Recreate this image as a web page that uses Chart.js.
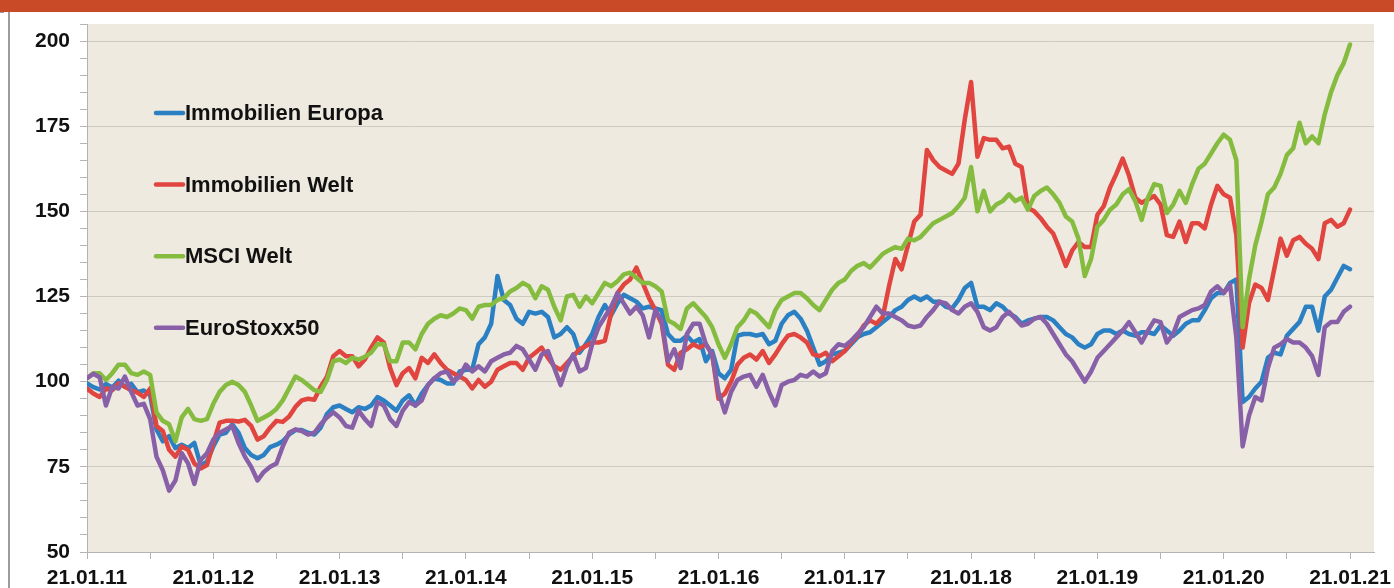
<!DOCTYPE html>
<html lang="de">
<head>
  <meta charset="UTF-8">
  <title>Immobilien vs. Aktien</title>
  <script src="https://cdn.jsdelivr.net/npm/chart.js"></script>
  <style>
    html, body { margin: 0; padding: 0; background: #fff; overflow: hidden; }
    body { width: 1394px; height: 588px; position: relative; font-family: 'Liberation Sans', Arial, sans-serif; }
    .band { position: absolute; left: 0; top: 0; width: 1394px; height: 12px; background: #C84A26; z-index: 2; }
    .frame { position: absolute; left: 8px; top: 12px; width: 2px; height: 576px; background: #9C9C9C; z-index: 2; }
    .dash { position: absolute; left: 0; top: 12px; width: 4px; height: 1px; background: #9C9C9C; z-index: 2; }
    .wrap { position: absolute; left: 0; top: 0; width: 1394px; height: 588px; }
  </style>
</head>
<body>
  <div class="band"></div>
  <div class="dash"></div>
  <div class="frame"></div>
  <div class="wrap"><canvas id="chart"></canvas></div>

  <script>
    // one value every 0.05 years, starting 21.01.2011
    const STEP = 0.05;
    const tickYears = ['21.01.11', '21.01.12', '21.01.13', '21.01.14', '21.01.15', '21.01.16',
                       '21.01.17', '21.01.18', '21.01.19', '21.01.20', '21.01.21'];
    const seriesNames = ['Immobilien Europa', 'Immobilien Welt', 'MSCI Welt', 'EuroStoxx50'];

    const immoEuropa = [
      99.5, 98.4, 97.7, 99.3, 98.3, 100.3, 98.5, 99.4, 96.9, 97.4,
      96, 86, 82.5, 84, 80.5, 81.5, 80.5, 82, 75.5, 76.5,
      81, 84.5, 85, 87.5, 85, 80.5, 78.5, 77.5, 78.5, 80.8,
      81.5, 82.5, 84.5, 85.8, 85.8, 85, 84.5, 86.5, 90.5, 92.5,
      93, 92, 91, 92.5, 92, 93, 95.5, 94.5, 93, 91.5,
      94.5, 96, 93, 96.5, 99, 101, 100.5, 99.5, 99.5, 103,
      103.5, 103.5, 111, 113, 117, 131, 124, 122.5, 118.5, 117,
      120.5, 120, 120.5, 119, 113, 114, 116, 114, 108.5, 111,
      114, 119, 122.5, 119.5, 123, 125.5, 124.5, 123.5, 121.5, 122,
      121.5, 121, 114, 112, 112, 113.5, 111.5, 112.5, 106, 109,
      102.5, 101, 103.5, 113.5, 114, 114, 113.5, 114, 111, 112,
      117, 119.5, 120.5, 118.5, 115, 110, 105, 106, 108, 108.5,
      109, 111, 113, 114, 114.5, 116, 117.5, 119, 121, 122,
      124, 125, 124, 125, 123.5, 123.5, 122, 121.5, 124, 127.5,
      129, 122, 122, 121, 123, 122, 120, 119, 117, 118,
      118.5, 119, 119, 118, 116, 114, 113, 111, 110, 111,
      114, 115, 115, 114, 115, 114, 113.5, 114.5, 114.5, 114,
      116.5, 115, 113.5, 115, 117, 118, 118, 121, 124.5, 126,
      126, 129, 130, 94, 95.5, 98, 100, 107, 108.5, 108,
      113.5, 115.5, 117.5, 122, 122, 115, 125, 127, 130.5, 134,
      133
    ];
    const immoWelt = [
      98, 96.5, 95.5, 98, 97.5, 99.5, 98.5, 97.5, 96.8, 95.5,
      98, 87, 85.5, 80, 78, 81, 80, 76, 74.5, 75.5,
      82, 88, 88.5, 88.5, 88.3, 88.8, 87, 83, 84, 86.5,
      88.5, 88.2, 89.8, 92.6, 94.5, 95, 94.7, 98.5, 101.5, 107.5,
      109, 107.5, 107.5, 104.5, 106.5, 110, 113, 111.5, 104, 99,
      102.5, 104, 101, 107, 105.5, 108, 105.5, 103.5, 102.5, 101.5,
      100.5, 98, 100.5, 98.5, 100, 103.5, 104.5, 105.5, 105.5, 103.5,
      107, 108.5, 110, 107, 104.5, 103.5, 105.5, 107.5, 109.5, 110.5,
      111.5, 111.5, 112, 120, 126, 128.5, 130, 133.5, 129, 124.5,
      121, 117, 105, 103.5, 108.5, 109.5, 111, 110, 111, 108,
      95, 96.5, 100, 105, 107, 108, 106.5, 109, 105.5, 108,
      111, 113.5, 114, 113, 111.5, 108, 107.5, 108.5, 106, 107.5,
      109, 111.5, 113.5, 116.5, 118, 117, 119, 128, 136, 133,
      140, 147, 149, 168, 165, 163, 162, 161, 164, 177,
      188, 166, 171.5, 171, 171, 168.5, 169, 164, 163, 151,
      150, 148, 145.5, 143.5, 139, 134, 138.5, 141, 139.5, 139.5,
      149, 151.5, 157, 161, 165.5, 160.5, 154, 152.5, 153.5, 154.5,
      152, 143, 142.5, 147, 141, 146.5, 146.5, 145, 152, 157.5,
      155, 154, 143, 110, 123, 128.5, 127.5, 124, 133, 142,
      137, 141.5, 142.5, 140.5, 139, 136, 146.5, 147.5, 145.5, 146.5,
      150.5
    ];
    const msciWelt = [
      101, 102.5, 102.5, 100.5, 102.5, 105, 105, 102.5, 102, 103,
      102, 91, 88.5, 87.5, 82.5, 89.5, 92, 89, 88.5, 89,
      93.5, 97, 99, 100, 99, 97, 93, 88.5, 89.5, 90.5,
      92, 94.5, 98, 101.5, 100.5, 99, 97.5, 97, 100.5, 106,
      106.5, 105.5, 107, 106.5, 107.3, 108.5, 111, 111, 106, 106,
      111.5, 111.5, 109.5, 114, 117, 118.5, 119.5, 119, 120, 121.5,
      121, 118.5, 122, 122.5, 122.5, 124, 124.5, 126.5, 127.5, 129,
      128, 124.5, 128, 127, 122, 118, 125, 125.5, 122, 125,
      123, 126, 129, 128, 129.5, 131.5, 132, 130.5, 129, 129,
      128, 126.5, 118, 117, 115.5, 121.5, 123, 121, 119, 116,
      111, 107, 111, 116, 118, 121, 120, 118, 116, 121,
      124, 125, 126, 126, 124.5, 122.5, 121, 124, 127, 129,
      130, 132.5, 134, 134.8, 133.5, 135.5, 137.5, 138.6, 139.5, 139,
      142, 141.5, 142.5, 144.5, 146.5, 147.5, 148.5, 149.5, 151.5, 154,
      163, 150, 156, 150, 152, 153, 155, 153, 154, 150.5,
      154.5, 156, 157, 155, 152.5, 148.5, 147, 142, 131, 136,
      145.5, 147.5, 150.5, 152, 155, 156.5, 153, 147.5, 154, 158,
      157.5, 149.5, 152, 156, 152.5, 158, 162.5, 164, 167, 170,
      172.5, 171, 165, 116, 130, 140, 147, 155, 157, 161,
      166.5, 168.5, 176, 170, 172, 170, 178.5, 185, 190, 193.5,
      199
    ];
    const euroStoxx = [
      101, 102.3, 101.3, 93, 98.5, 98, 101.5, 97, 93, 93.5,
      89, 78, 74, 68, 71, 79, 76, 70, 77, 79,
      83, 85, 86, 87, 82, 78, 75, 71, 73.5, 75,
      76, 81, 85, 86, 85.5, 84.5, 85, 87.5, 89.5, 91,
      89.5, 87, 86.5, 91.5, 89, 87, 94, 93, 89, 87,
      91.5, 94, 93, 94.5, 99, 101, 102.5, 103, 100, 101.5,
      105, 103, 104.5, 103, 106, 107, 108, 108.5, 110.5, 109.5,
      106.5, 103.5, 108, 109, 104, 99, 104.5, 108, 103, 104,
      111, 116, 119, 122, 126, 123, 120, 122, 119.5, 113,
      121, 118, 106, 109.5, 104, 114, 117, 117, 111, 108,
      97, 91, 97, 100.5, 101.5, 102, 98.5, 102, 97, 93,
      99, 100, 100.5, 102, 101.5, 103, 101.5, 102.5, 109, 111,
      110.5, 112, 114, 116, 119, 122, 120, 120, 119, 118,
      116.5, 116, 116.5, 119, 121, 123.5, 123, 121, 120, 122,
      123, 120.5, 116, 115, 116, 119, 120.5, 118.5, 116.5, 117,
      118.5, 119, 117, 114, 111, 108, 106, 103, 100, 103,
      107, 109, 111, 113, 115, 117.5, 114.5, 111.5, 115, 118,
      117.5, 111.5, 114, 119, 120, 121, 121.5, 122.5, 126.5, 128,
      126, 128.5, 113, 81, 90, 95.5, 94.5, 104, 110, 111,
      112.5, 111.5, 111.5, 110, 107.5, 102, 116, 117.5, 117.5, 120.5,
      122
    ];

    const colors = ['#2B80C4', '#E1453F', '#85BC40', '#8860A8'];
    const allSeries = [immoEuropa, immoWelt, msciWelt, euroStoxx];

    const toPoints = arr => arr.map((v, i) => ({ x: i * STEP, y: v }));

    // beige plot background
    const plotBg = {
      id: 'plotBg',
      beforeDraw(chart) {
        const { ctx, chartArea: a } = chart;
        ctx.save();
        ctx.fillStyle = '#EEEAE0';
        ctx.fillRect(a.left, a.top, a.right - a.left, a.bottom - a.top);
        ctx.restore();
      }
    };

    // legend inside the plot, one entry per row
    const innerLegend = {
      id: 'innerLegend',
      afterDatasetsDraw(chart) {
        const { ctx, chartArea: a } = chart;
        ctx.save();
        ctx.font = 'bold 22px "Liberation Sans", Arial, sans-serif';
        ctx.textBaseline = 'middle';
        ctx.lineCap = 'round';
        chart.data.datasets.forEach((ds, i) => {
          const y = a.top + 89 + i * 71.6;
          const x = a.left + 69;
          ctx.strokeStyle = ds.borderColor;
          ctx.lineWidth = 4.5;
          ctx.beginPath();
          ctx.moveTo(x, y);
          ctx.lineTo(x + 27, y);
          ctx.stroke();
          ctx.fillStyle = '#111';
          ctx.fillText(ds.label, x + 29, y + 1);
        });
        ctx.restore();
      }
    };

    Chart.defaults.font.family = "'Liberation Sans', Arial, sans-serif";

    new Chart(document.getElementById('chart'), {
      type: 'line',
      data: {
        datasets: allSeries.map((arr, i) => ({
          label: seriesNames[i],
          data: toPoints(arr),
          borderColor: colors[i],
          backgroundColor: colors[i],
          borderWidth: 4.5,
          pointRadius: 0,
          tension: 0,
          borderJoinStyle: 'round',
          borderCapStyle: 'round',
          order: 4 - i
        }))
      },
      options: {
        responsive: true,
        maintainAspectRatio: false,
        animation: false,
        layout: { padding: { top: 24, right: 20, bottom: 0, left: 0 } },
        plugins: {
          legend: { display: false },
          tooltip: { enabled: false }
        },
        scales: {
          x: {
            type: 'linear',
            min: 0,
            max: 10.19,
            afterFit(scale) {
              scale.height = 36;
              scale.paddingLeft = 0;
              scale.paddingRight = 0;
            },
            afterBuildTicks(scale) {
              const t = [];
              for (let i = 0; i <= 20; i++) t.push({ value: i * 0.5 });
              scale.ticks = t;
            },
            ticks: {
              autoSkip: false,
              maxRotation: 0,
              includeBounds: false,
              padding: 7,
              color: '#111',
              font: { size: 21, weight: 'bold' },
              callback: v => Number.isInteger(v) ? tickYears[v] : ''
            },
            grid: { drawOnChartArea: false, tickLength: 7, tickColor: '#B4B4B4' },
            border: { color: '#B4B4B4', width: 1 }
          },
          y: {
            min: 50,
            max: 205,
            afterFit(scale) { scale.width = 87; },
            afterBuildTicks(scale) {
              const t = [];
              for (let v = 50; v <= 205; v += 5) t.push({ value: v });
              scale.ticks = t;
            },
            ticks: {
              autoSkip: false,
              padding: 10,
              color: '#111',
              font: { size: 21, weight: 'bold' },
              callback: v => (v % 25 === 0 && v <= 200) ? v : ''
            },
            grid: {
              tickLength: 7,
              tickColor: '#B4B4B4',
              color: c => (c.tick && c.tick.value % 25 === 0 && c.tick.value > 50 && c.tick.value <= 200) ? '#CDCAC2' : 'rgba(0,0,0,0)'
            },
            border: { color: '#B4B4B4', width: 1 }
          }
        }
      },
      plugins: [plotBg, innerLegend]
    });
  </script>
</body>
</html>
